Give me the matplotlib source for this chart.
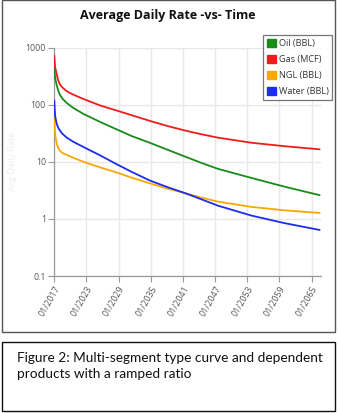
import matplotlib
matplotlib.use("Agg")
import matplotlib.pyplot as plt
from matplotlib.patches import Rectangle, Patch

W, H = 338, 413
fig = plt.figure(figsize=(W / 100, H / 100), dpi=100)

# data (years since 01/2017)
t = [0.0, 0.1, 0.2, 0.45, 0.7, 1.06, 1.5, 2.31, 3.5, 5.4, 8.5, 11.6, 14.5, 17.8,
     21.0, 24.5, 27.5, 30.55, 36.8, 43.0, 49.5]
gas = [720, 520, 430, 340, 270, 225, 200, 172, 150, 126, 97, 79, 65, 52,
       42.5, 35, 30.2, 26.4, 21.5, 18.7, 16.5]
oil = [430, 330, 280, 220, 180, 148, 128, 107, 88, 69, 50, 37, 28, 21.5,
       16.4, 12.2, 9.5, 7.5, 5.2, 3.65, 2.6]
water = [118, 75, 60, 46, 40, 35, 31, 26.5, 22.5, 18.2, 13, 9.1, 6.6, 4.7,
         3.63, 2.8, 2.19, 1.7, 1.14, 0.84, 0.64]
ngl = [58, 36, 28, 21, 17.5, 15.5, 14.3, 13.2, 11.8, 10, 8, 6.5, 5.25, 4.2,
       3.4, 2.8, 2.35, 2.0, 1.62, 1.41, 1.27]
series = [("Oil (BBL)", oil, "#1a8a1a"), ("Gas (MCF)", gas, "#f01c1c"),
          ("NGL (BBL)", ngl, "#f8a800"), ("Water (BBL)", water, "#1c2cf0")]
xtick_pos = [0, 6, 12, 18, 24, 30, 36, 42, 48]
xtick_labels = ["01/2017", "01/2023", "01/2029", "01/2035", "01/2041",
                "01/2047", "01/2053", "01/2059", "01/2065"]
yticks = [0.1, 1, 10, 100, 1000]
ytick_labels = ["0.1", "1", "10", "100", "1000"]

font = ["Open Sans", "DejaVu Sans"]

def px(x, y):
    return x / W, 1 - y / H

# outer boxes
fig.add_artist(Rectangle(px(2, 332), 333 / W, 332 / H, transform=fig.transFigure,
                         fill=False, edgecolor="#555555", lw=1.0))
fig.add_artist(Rectangle(px(2, 411), 333 / W, 69 / H, transform=fig.transFigure,
                         fill=False, edgecolor="#111111", lw=1.0))

ax_l, ax_r, ax_t, ax_b = 54.3, 321, 47.5, 276
ax = fig.add_axes([ax_l / W, 1 - ax_b / H, (ax_r - ax_l) / W, (ax_b - ax_t) / H])
for name, vals, col in series:
    ax.plot(t, vals, color=col, lw=1.3, solid_capstyle="round",
            solid_joinstyle="round", zorder=3)
ax.set_yscale("log")
ax.set_ylim(0.1, 1000)
ax.set_xlim(0, 49.75)
ax.set_yticks(yticks)
ax.set_yticklabels(ytick_labels, fontfamily=font, fontsize=6.3, color="#555555")
ax.minorticks_off()
ax.set_xticks(xtick_pos)
ax.set_xticklabels(xtick_labels, rotation=60, ha="right", rotation_mode="anchor",
                   fontfamily=font, fontsize=6.3, color="#555555")
ax.grid(True, color="#e8e8e8", lw=1.0, zorder=0)
for s in ["top", "right"]:
    ax.spines[s].set_visible(False)
for s in ["left", "bottom"]:
    ax.spines[s].set_color("#999999")
    ax.spines[s].set_linewidth(0.9)
ax.tick_params(axis="both", color="#999999", length=4, width=0.8, pad=2)
ax.set_ylabel("Avg Daily Rate", fontfamily=font, fontsize=6.5, color="#ececec")
ax.yaxis.set_label_coords((17 - ax_l) / (ax_r - ax_l), 0.5)

handles = [Patch(facecolor=c, edgecolor=c) for _, _, c in series]
leg = fig.legend(handles, [n for n, _, _ in series], loc="upper left",
                 bbox_to_anchor=(263 / W, 1 - 35 / H), frameon=True, fancybox=False,
                 prop={"family": font, "size": 6.6}, handlelength=1.0, handleheight=1.0,
                 handletextpad=0.3, labelspacing=0.75, borderpad=0.4, borderaxespad=0)
leg.get_frame().set_edgecolor("#555555")
leg.get_frame().set_linewidth(0.9)
for txt in leg.get_texts():
    txt.set_color("#333333")

fig.text(168 / W, 1 - 16 / H, "Average Daily Rate -vs- Time", ha="center", va="center",
         fontfamily=font, fontsize=9.0, fontweight="bold", color="#111111")

fig.text(17 / W, 1 - 358 / H, "Figure 2: Multi-segment type curve and dependent",
         ha="left", va="center", fontfamily=["Lato", "DejaVu Sans"], fontsize=9.8, color="#111111")
fig.text(17 / W, 1 - 374 / H, "products with a ramped ratio",
         ha="left", va="center", fontfamily=["Lato", "DejaVu Sans"], fontsize=9.8, color="#111111")

fig.savefig("out.png", dpi=100)
